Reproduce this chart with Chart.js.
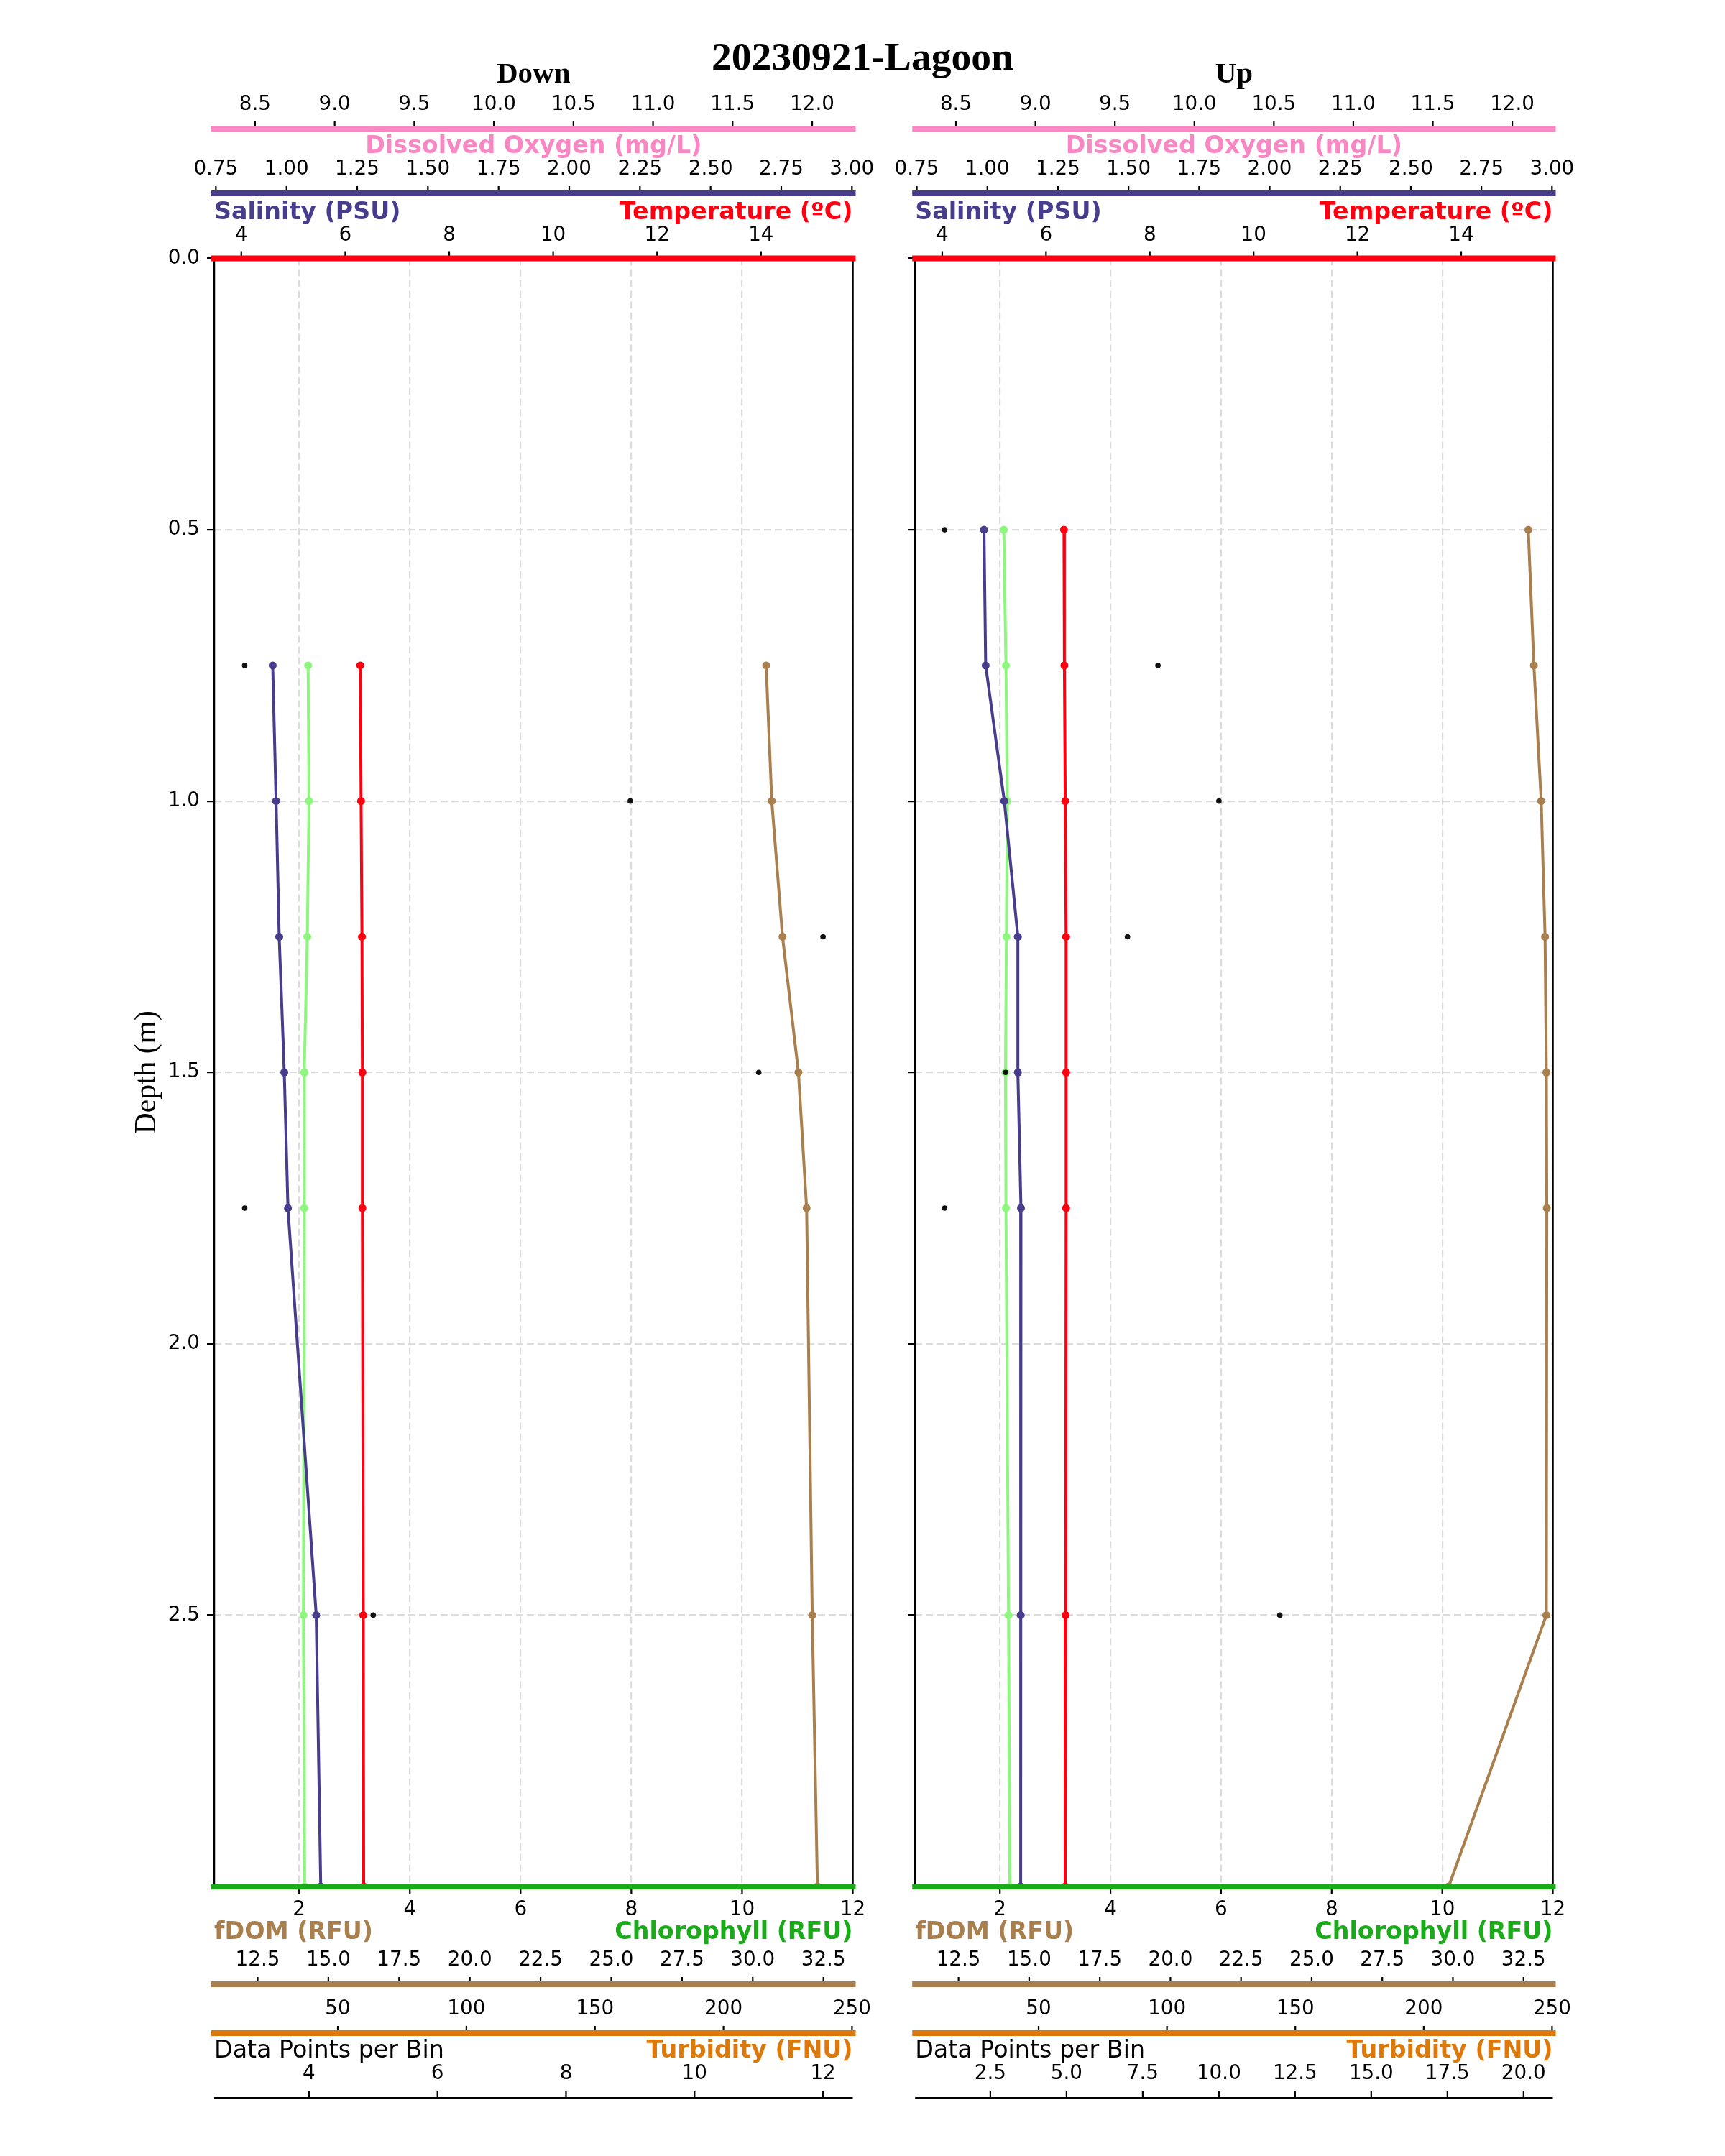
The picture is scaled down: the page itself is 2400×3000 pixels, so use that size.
<!DOCTYPE html>
<html>
<head>
<meta charset="utf-8">
<script src="https://cdn.jsdelivr.net/npm/chart.js@4.4.1/dist/chart.umd.min.js"></script>
<style>
html, body { margin: 0; padding: 0; background: #ffffff; }
#wrap { position: relative; width: 2400px; height: 3000px; background: #ffffff; }
#wrap canvas { position: absolute; left: 0; top: 0; }
</style>
</head>
<body>
<div id="wrap">
  <canvas id="cDown" width="2400" height="3000"></canvas>
  <canvas id="cUp" width="2400" height="3000"></canvas>
</div>
<script>
// ---------------- DATA ----------------
const figureTitle = '20230921-Lagoon';

const downDepth       = [0.75, 1.0, 1.25, 1.5, 1.75, 2.5, 3.0];
const downSalinity    = [0.951, 0.963, 0.974, 0.992, 1.005, 1.105, 1.121];
const downChlorophyll = [2.163, 2.179, 2.148, 2.093, 2.093, 2.078, 2.101];
const downTemperature = [6.288, 6.304, 6.321, 6.329, 6.329, 6.346, 6.354];
const downFdom        = [30.475, 30.673, 31.054, 31.616, 31.905, 32.104, 32.287];
const downCount       = [3, 9, 12, 11, 3, 5, 5];

const upDepth         = [0.5, 0.75, 1.0, 1.25, 1.5, 1.75, 2.5, 3.0];
const upSalinity      = [0.988, 0.994, 1.060, 1.108, 1.108, 1.119, 1.118, 1.118];
const upChlorophyll   = [2.070, 2.109, 2.132, 2.117, 2.101, 2.109, 2.156, 2.179];
const upTemperature   = [6.346, 6.354, 6.370, 6.387, 6.387, 6.387, 6.379, 6.370];
const upFdom          = [32.668, 32.866, 33.125, 33.262, 33.308, 33.323, 33.308, 29.850];
const upCount         = [1, 8, 10, 7, 3, 1, 12, 20];

const depthTickLabels       = ['0.0', '0.5', '1.0', '1.5', '2.0', '2.5'];
const oxygenTickLabels      = ['8.5', '9.0', '9.5', '10.0', '10.5', '11.0', '11.5', '12.0'];
const salinityTickLabels    = ['0.75', '1.00', '1.25', '1.50', '1.75', '2.00', '2.25', '2.50', '2.75', '3.00'];
const temperatureTickLabels = ['4', '6', '8', '10', '12', '14'];
const chlorophyllTickLabels = ['2', '4', '6', '8', '10', '12'];
const fdomTickLabels        = ['12.5', '15.0', '17.5', '20.0', '22.5', '25.0', '27.5', '30.0', '32.5'];
const turbidityTickLabels   = ['50', '100', '150', '200', '250'];
const downCountTickLabels   = ['4', '6', '8', '10', '12'];
const upCountTickLabels     = ['2.5', '5.0', '7.5', '10.0', '12.5', '15.0', '17.5', '20.0'];

const depthRange       = [0, 3.0];
const oxygenRange      = [8.243, 12.255];
const salinityRange    = [0.744, 3.003];
const temperatureRange = [3.477, 15.766];
const chlorophyllRange = [0.466, 12.0];
const fdomRange        = [10.963, 33.537];
const turbidityRange   = [1.9, 250.3];
const downCountRange   = [2.525, 12.463];
const upCountRange     = [0.03, 20.96];

// ---------------- STYLE ----------------
const COL = {
  oxygen: '#F987C3',
  salinity: '#473D8C',
  temperature: '#FF0010',
  chlLine: '#8CF77C',
  chlAxis: '#1AAA1A',
  fdom: '#A97F4E',
  turbidity: '#DD790B',
  count: '#111111'
};
const TICK_FONT = '27.8px "DejaVu Sans"';
const PLOT_TOP = 359.5, PLOT_BOTTOM = 2625;

function pts(vals, depth) { return vals.map((v, i) => ({ x: v, y: depth[i] })); }

function line(ctx, x1, y1, x2, y2) { ctx.beginPath(); ctx.moveTo(x1, y1); ctx.lineTo(x2, y2); ctx.stroke(); }

function drawPanel(chart, p) {
  const ctx = chart.ctx;
  const ca = chart.chartArea;
  const L = ca.left, R = ca.right, T = ca.top, B = ca.bottom;
  ctx.save();
  // black side spines
  ctx.strokeStyle = '#000'; ctx.lineWidth = 2.5; ctx.lineCap = 'butt';
  line(ctx, L, T, L, B); line(ctx, R, T, R, B);

  const axes = [
    { id: 'oxygen', y: 179, lw: 8, color: COL.oxygen, dir: -1, labelY: 153, labels: oxygenTickLabels },
    { id: 'salinity', y: 269, lw: 8, color: COL.salinity, dir: -1, labelY: 243, labels: salinityTickLabels },
    { id: 'temperature', y: T, lw: 8, color: COL.temperature, dir: -1, labelY: 335, labels: temperatureTickLabels },
    { id: 'chlorophyll', y: B, lw: 8, color: COL.chlAxis, dir: 1, labelY: 2665, labels: chlorophyllTickLabels },
    { id: 'fdom', y: 2761, lw: 8, color: COL.fdom, dir: -1, labelY: 2735, labels: fdomTickLabels },
    { id: 'turbidity', y: 2829, lw: 8, color: COL.turbidity, dir: -1, labelY: 2803, labels: turbidityTickLabels },
    { id: 'count', y: 2919, lw: 2.2, color: '#000', dir: -1, labelY: 2893, labels: p.countTicks }
  ];
  for (const ax of axes) {
    const s = chart.scales[ax.id];
    ctx.strokeStyle = '#000'; ctx.lineWidth = 2.2; ctx.lineCap = 'butt';
    ax.labels.forEach(lab => { const x = s.getPixelForValue(Number(lab)); line(ctx, x, ax.y, x, ax.y + ax.dir * 10); });
    ctx.strokeStyle = ax.color; ctx.lineWidth = ax.lw; ctx.lineCap = ax.lw > 3 ? 'square' : 'butt';
    line(ctx, L, ax.y, R, ax.y);
    ctx.fillStyle = '#000'; ctx.font = TICK_FONT; ctx.textAlign = 'center'; ctx.textBaseline = 'alphabetic';
    ax.labels.forEach(lab => ctx.fillText(lab, s.getPixelForValue(Number(lab)), ax.labelY));
  }

  const titles = [
    { text: 'Dissolved Oxygen (mg/L)', color: COL.oxygen, align: 'center', y: 213, bold: true },
    { text: 'Salinity (PSU)', color: COL.salinity, align: 'left', y: 305, bold: true },
    { text: 'Temperature (ºC)', color: COL.temperature, align: 'right', y: 305, bold: true },
    { text: 'fDOM (RFU)', color: COL.fdom, align: 'left', y: 2698, bold: true },
    { text: 'Chlorophyll (RFU)', color: COL.chlAxis, align: 'right', y: 2698, bold: true },
    { text: 'Data Points per Bin', color: '#000', align: 'left', y: 2863, bold: false },
    { text: 'Turbidity (FNU)', color: COL.turbidity, align: 'right', y: 2863, bold: true }
  ];
  for (const t of titles) {
    ctx.font = (t.bold ? 'bold ' : '') + '33.3px "DejaVu Sans"';
    ctx.fillStyle = t.color; ctx.textAlign = t.align; ctx.textBaseline = 'alphabetic';
    const x = t.align === 'left' ? L : t.align === 'right' ? R : (L + R) / 2;
    ctx.fillText(t.text, x, t.y);
  }

  ctx.fillStyle = '#000'; ctx.textAlign = 'center'; ctx.textBaseline = 'alphabetic';
  ctx.font = 'bold 41px "Liberation Serif"';
  ctx.fillText(p.title, (L + R) / 2, 115);
  if (p.isLeft) {
    ctx.font = 'bold 55.6px "Liberation Serif"';
    ctx.fillText(figureTitle, 1200, 97);
  }
  ctx.restore();
}

function makeChart(p) {
  const lineDs = (label, vals, axis, color) => ({
    label, data: pts(vals, p.depth), xAxisID: axis, yAxisID: 'y', showLine: true,
    borderColor: color, backgroundColor: color, borderWidth: 4,
    pointRadius: 5.5, pointHoverRadius: 5.5, pointBorderWidth: 0, clip: 4
  });
  const hidden = (range) => ({ type: 'linear', axis: 'x', position: 'top', display: false, min: range[0], max: range[1] });
  const datasets = [
    { label: 'Data Points per Bin', data: pts(p.count, p.depth), xAxisID: 'count', yAxisID: 'y', showLine: false,
      borderColor: COL.count, backgroundColor: COL.count, pointRadius: 3.8, pointHoverRadius: 3.8, pointBorderWidth: 0, clip: 4 },
    lineDs('Salinity (PSU)', p.salinity, 'salinity', COL.salinity),
    lineDs('Chlorophyll (RFU)', p.chl, 'chlorophyll', COL.chlLine),
    lineDs('Temperature (ºC)', p.temp, 'temperature', COL.temperature),
    lineDs('fDOM (RFU)', p.fdom, 'fdom', COL.fdom)
  ];
  return new Chart(document.getElementById(p.canvas), {
    type: 'scatter',
    data: { datasets },
    options: {
      responsive: false, maintainAspectRatio: false, animation: false, devicePixelRatio: 1, events: [],
      layout: { padding: { left: p.padLeft, right: p.padRight, top: PLOT_TOP, bottom: 3000 - PLOT_BOTTOM } },
      plugins: { legend: { display: false }, tooltip: { enabled: false }, title: { display: false } },
      scales: {
        y: {
          type: 'linear', position: 'left', reverse: true, min: depthRange[0], max: depthRange[1],
          afterBuildTicks: s => { s.ticks = depthTickLabels.map(l => ({ value: Number(l) })); },
          afterFit: s => { s.width = p.yWidth; },
          ticks: { display: p.isLeft, color: '#000', padding: 10, font: { family: 'DejaVu Sans', size: 27.8 },
                   callback: (v, i) => depthTickLabels[i] },
          grid: { color: '#dcdcdc', lineWidth: 2.2, drawTicks: true, tickLength: 10, tickColor: '#000', tickWidth: 2.2 },
          border: { display: false, dash: [10, 5] },
          title: { display: p.isLeft, text: 'Depth (m)', color: '#000',
                   font: { family: 'Liberation Serif', size: 41.6, weight: 'normal' }, padding: { top: 180, bottom: 0 } }
        },
        chlorophyll: {
          type: 'linear', axis: 'x', position: 'bottom', min: chlorophyllRange[0], max: chlorophyllRange[1],
          afterBuildTicks: s => { s.ticks = chlorophyllTickLabels.map(l => ({ value: Number(l) })); },
          afterFit: s => { s.height = 0; },
          ticks: { display: false },
          grid: { color: '#dcdcdc', lineWidth: 2.2, drawTicks: false },
          border: { display: false, dash: [10, 5] }
        },
        temperature: hidden(temperatureRange),
        salinity: hidden(salinityRange),
        oxygen: hidden(oxygenRange),
        fdom: hidden(fdomRange),
        turbidity: hidden(turbidityRange),
        count: hidden(p.countRange)
      }
    },
    plugins: [{ id: 'profileAxes' + p.canvas, afterDraw: chart => drawPanel(chart, p) }]
  });
}

const panels = [
  { canvas: 'cDown', title: 'Down', isLeft: true, padLeft: 0, yWidth: 298, padRight: 2400 - 1186.5,
    depth: downDepth, salinity: downSalinity, chl: downChlorophyll, temp: downTemperature, fdom: downFdom,
    count: downCount, countRange: downCountRange, countTicks: downCountTickLabels },
  { canvas: 'cUp', title: 'Up', isLeft: false, padLeft: 1253.2, yWidth: 20, padRight: 2400 - 2160.5,
    depth: upDepth, salinity: upSalinity, chl: upChlorophyll, temp: upTemperature, fdom: upFdom,
    count: upCount, countRange: upCountRange, countTicks: upCountTickLabels }
];
panels.forEach(makeChart);
</script>
</body>
</html>
